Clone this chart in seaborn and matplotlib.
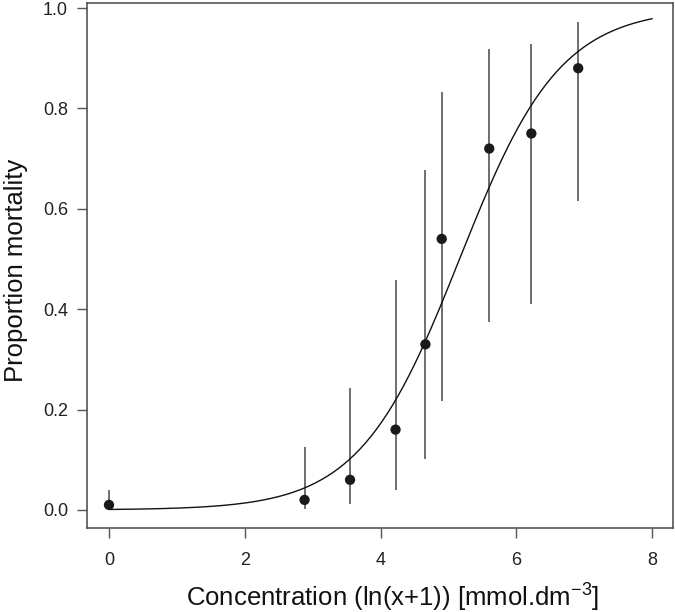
import seaborn as sns
import matplotlib.pyplot as plt
import pandas as pd
import numpy as np

conc = [0, 2.88, 3.55, 4.22, 4.66, 4.90, 5.60, 6.22, 6.91]
mort = [0.01, 0.02, 0.06, 0.16, 0.33, 0.54, 0.72, 0.75, 0.88]
ci_low = [0.0, 0.001, 0.011, 0.04, 0.102, 0.217, 0.375, 0.41, 0.616]
ci_high = [0.04, 0.125, 0.243, 0.459, 0.678, 0.833, 0.918, 0.929, 0.972]

# fitted logistic model
b0 = -6.97
b1 = 1.35

sns.set_style("ticks")
plt.rcParams['font.family'] = ['Liberation Sans', 'DejaVu Sans']
plt.rcParams['mathtext.fontset'] = 'custom'
plt.rcParams['mathtext.rm'] = 'Liberation Sans'

df = pd.DataFrame({"conc": conc, "mort": mort})
xs = np.linspace(0, 8, 200)
fit = pd.DataFrame({"x": xs, "p": 1 / (1 + np.exp(-(b0 + b1 * xs)))})

fig = plt.figure(figsize=(6.75, 6.12), dpi=100)
ax = fig.add_axes([87 / 675, 84 / 612, 586 / 675, 525 / 612])

ax.vlines(conc, ci_low, ci_high, color="#555555", lw=1.2)
sns.lineplot(data=fit, x="x", y="p", color="#111111", lw=1.0, ax=ax)
sns.scatterplot(data=df, x="conc", y="mort", color="#1a1a1a", s=55,
                edgecolor="none", ax=ax, zorder=3)

ax.set_xlim(-0.324, 8.306)
ax.set_ylim(-0.036, 1.010)
ax.set_xticks([0, 2, 4, 6, 8])
ax.set_yticks([0.0, 0.2, 0.4, 0.6, 0.8, 1.0])
ax.set_yticklabels(["0.0", "0.2", "0.4", "0.6", "0.8", "1.0"])
ax.tick_params(length=7.2, width=1, color="#555555", labelsize=13,
               labelcolor="#222222", pad=6.5)
ax.tick_params(axis="x", pad=10)
for s in ax.spines.values():
    s.set_color("#555555")
    s.set_linewidth(1.2)

ax.set_xlabel(r"Concentration (ln(x+1)) [mmol.dm$^{\mathrm{-3}}$]",
              fontsize=18.5, color="#111111", labelpad=8)
ax.set_ylabel("Proportion mortality", fontsize=18.5, color="#111111", labelpad=11)
ax.xaxis.label.set_x(0.522)
ax.yaxis.label.set_y(0.49)

plt.savefig("out.png", dpi=100)
